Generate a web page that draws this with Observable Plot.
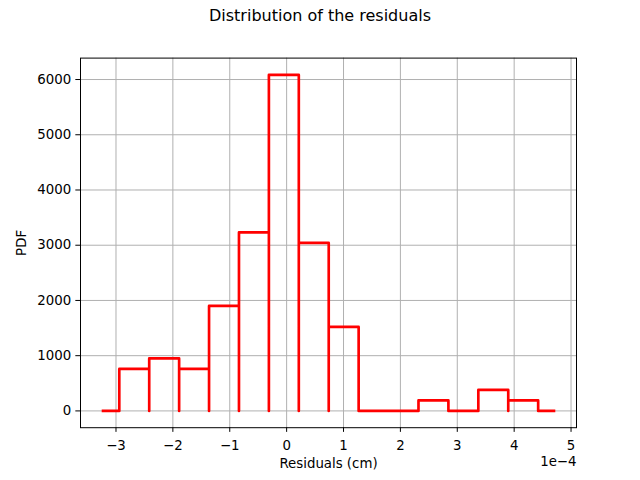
<!DOCTYPE html>
<html>
<head>
<meta charset="utf-8">
<script src="https://cdn.jsdelivr.net/npm/d3@7"></script>
<script src="https://cdn.jsdelivr.net/npm/@observablehq/plot@0.6"></script>
<style>
  html, body { margin: 0; padding: 0; background: white; }
  #title { height: 30px; box-sizing: border-box; padding-top: 8px; width: 640px; text-align: center;
           font-family: "DejaVu Sans", sans-serif; font-size: 16px; line-height: 16px; color: black; }
</style>
</head>
<body>
<div id="title">Distribution of the residuals</div>
<div id="chart"></div>
<script>
// Histogram bin edges (residuals, cm) and PDF heights
const binEdges = [-2.942e-4, -2.416e-4, -1.890e-4, -1.364e-4, -0.838e-4, -0.312e-4, 0.214e-4,
                  0.740e-4, 1.266e-4, 1.792e-4, 2.318e-4, 2.844e-4, 3.370e-4, 3.896e-4, 4.422e-4];
const pdfHeights = [760, 951, 760, 1901, 3232, 6084, 3042, 1521, 0, 0, 190, 0, 380, 190];
const rangeLimits = [-3.228e-4, 4.700e-4];
const xTicks = [-3e-4, -2e-4, -1e-4, 0, 1e-4, 2e-4, 3e-4, 4e-4, 5e-4];
const yTicks = [0, 1000, 2000, 3000, 4000, 5000, 6000];
const xLabel = "Residuals (cm)";
const yLabel = "PDF";
const xOffsetLabel = "1e\u22124";

// Staircase outline as drawn by the reference: each bin is (x_i,0)->(x_i,h)->(x_i+1,h)->(x_i+1,0)
const pts = [{x: rangeLimits[0], y: 0}];
pdfHeights.forEach((h, i) => {
  pts.push({x: binEdges[i], y: 0}, {x: binEdges[i], y: h}, {x: binEdges[i + 1], y: h}, {x: binEdges[i + 1], y: 0});
});
pts.push({x: rangeLimits[1], y: 0});

const fmtX = d => { const v = Math.round(d * 1e4); return (v < 0 ? "\u2212" : "") + Math.abs(v); };
const fmtY = d => String(d);

const plot = Plot.plot({
  width: 640,
  height: 450,
  marginLeft: 80,
  marginRight: 64,
  marginTop: 27.6,
  marginBottom: 52.8,
  style: {fontFamily: "DejaVu Sans, sans-serif", fontSize: "13.33px", color: "black", background: "white", overflow: "visible"},
  x: {domain: [-3.624e-4, 5.096e-4]},
  y: {domain: [-304, 6388]},
  marks: [
    Plot.gridX(xTicks, {stroke: "#b0b0b0", strokeOpacity: 1, strokeWidth: 1}),
    Plot.gridY(yTicks, {stroke: "#b0b0b0", strokeOpacity: 1, strokeWidth: 1}),
    Plot.line(pts, {x: "x", y: "y", stroke: "red", strokeWidth: 2.67, strokeLinejoin: "round", strokeLinecap: "square"}),
    Plot.axisX(xTicks, {tickSize: 4.67, tickPadding: 8.5, tickFormat: fmtX, label: null, stroke: "black", strokeWidth: 1, fontSize: 13.33}),
    Plot.axisY(yTicks, {tickSize: 4.67, tickPadding: 4.67, tickFormat: fmtY, label: null, stroke: "black", strokeWidth: 1, fontSize: 13.33}),
    Plot.frame({stroke: "black", strokeWidth: 1}),
    Plot.text([xLabel], {text: d => d, frameAnchor: "bottom", dy: 40, fontSize: 13.33, fill: "black"}),
    Plot.text([xOffsetLabel], {text: d => d, frameAnchor: "bottom-right", textAnchor: "end", dy: 38, fontSize: 13.33, fill: "black"}),
    Plot.text([yLabel], {text: d => d, frameAnchor: "left", textAnchor: "middle", dx: -59, rotate: -90, fontSize: 13.33, fill: "black"})
  ]
});
document.getElementById("chart").appendChild(plot);
</script>
</body>
</html>
